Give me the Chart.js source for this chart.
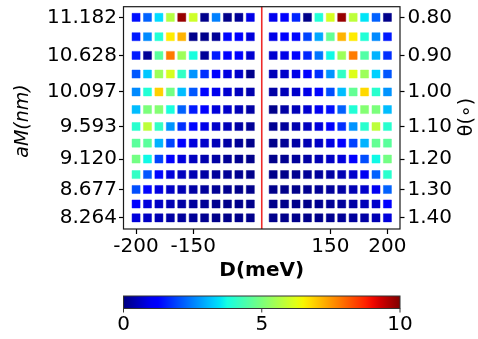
<!DOCTYPE html>
<html>
<head>
<meta charset="utf-8">
<script src="https://cdn.jsdelivr.net/npm/chart.js@4.4.0/dist/chart.umd.min.js"></script>
<style>
  html, body { margin: 0; padding: 0; background: #fff; }
  #wrap { width: 478px; height: 339px; }
</style>
</head>
<body>
<div id="wrap"><canvas id="heat"></canvas></div>
<script>
// --- data ---
const thetaLabels = ['0.80', '0.90', '1.00', '1.10', '1.20', '1.30', '1.40'];
const aMTicks = [11.182, 10.628, 10.097, 9.593, 9.120, 8.677, 8.264];
// one row per twist angle 0.80 .. 1.40 step 0.05 (moire period in nm)
const rowAM = [11.182, 10.900, 10.628, 10.357, 10.097, 9.840, 9.593, 9.352, 9.120, 8.894, 8.677, 8.466, 8.264];
const dLeft = [-200, -190, -180, -170, -160, -150, -140, -130, -120, -110, -100];
const dRight = [100, 110, 120, 130, 140, 150, 160, 170, 180, 190, 200];
const xTickLabels = [-200, -150, 150, 200];
const cbarTicks = [0, 5, 10];

const leftVals = [
    [1.4, 2.2, 3.4, 5.7, 9.8, 6.0, 0.1, 2.5, 0.1, 0.2, 0.9],
    [1.5, 2.6, 3.9, 6.6, 7.2, 0.1, 0.1, 0.2, 1.3, 1.2, 0.8],
    [1.5, 0.2, 4.6, 7.8, 5.4, 3.8, 0.2, 1.5, 1.2, 1.1, 0.7],
    [2.1, 3.2, 5.4, 6.1, 4.1, 2.7, 1.7, 1.2, 0.85, 0.65, 0.1],
    [2.6, 3.9, 6.9, 4.9, 3.1, 2.1, 1.3, 0.95, 0.7, 0.55, 0.4],
    [3.1, 5.0, 5.1, 3.8, 2.2, 1.5, 1.2, 0.8, 0.65, 0.5, 0.32],
    [4.0, 5.8, 4.1, 2.7, 1.7, 1.3, 0.9, 0.65, 0.5, 0.32, 0.2],
    [4.6, 4.6, 3.0, 1.9, 1.2, 0.8, 0.65, 0.5, 0.32, 0.2, 0.1],
    [4.9, 3.7, 1.9, 1.2, 0.8, 0.55, 0.4, 0.32, 0.2, 0.15, 0.1],
    [4.1, 2.1, 1.3, 0.8, 0.55, 0.45, 0.32, 0.25, 0.2, 0.15, 0.1],
    [2.0, 1.3, 0.85, 0.6, 0.45, 0.32, 0.25, 0.2, 0.15, 0.1, 0.1],
    [1.2, 0.8, 0.6, 0.45, 0.32, 0.25, 0.2, 0.15, 0.1, 0.1, 0.1],
    [0.8, 0.6, 0.45, 0.32, 0.25, 0.2, 0.15, 0.1, 0.1, 0.1, 0.1]
];
const rightVals = [
    [0.95, 1.2, 1.6, 0.1, 3.9, 6.1, 9.8, 5.8, 3.5, 2.2, 0.1],
    [0.9, 1.2, 1.3, 1.9, 2.9, 4.7, 7.2, 6.6, 3.9, 2.6, 1.5],
    [0.7, 0.9, 1.2, 1.6, 2.4, 3.7, 5.4, 7.8, 4.5, 3.0, 1.7],
    [0.5, 0.65, 0.9, 1.2, 1.7, 2.7, 4.1, 6.2, 5.4, 3.3, 2.1],
    [0.32, 0.5, 0.65, 0.9, 1.3, 2.0, 3.1, 4.7, 6.8, 4.0, 2.7],
    [0.1, 0.32, 0.5, 0.7, 1.0, 1.4, 2.2, 3.9, 5.1, 5.0, 3.1],
    [0.15, 0.25, 0.4, 0.55, 0.8, 1.2, 1.7, 2.7, 4.0, 5.8, 4.0],
    [0.1, 0.2, 0.32, 0.45, 0.6, 0.85, 1.2, 1.9, 3.0, 4.7, 4.6],
    [0.1, 0.15, 0.25, 0.32, 0.45, 0.6, 0.8, 1.2, 2.0, 3.7, 4.9],
    [0.1, 0.1, 0.15, 0.2, 0.25, 0.32, 0.45, 0.65, 1.0, 2.2, 4.0],
    [0.1, 0.1, 0.1, 0.15, 0.2, 0.25, 0.32, 0.45, 0.65, 1.0, 2.2],
    [0.1, 0.1, 0.1, 0.1, 0.15, 0.2, 0.25, 0.32, 0.5, 0.65, 1.2],
    [0.1, 0.1, 0.1, 0.1, 0.1, 0.15, 0.2, 0.25, 0.32, 0.45, 0.8]
];

const vMin = 0, vMax = 10;
const gap = 90; // the axis is broken between -90 and 90 meV

// D -> position on the (broken) x axis
function shiftD(d) { return d < 0 ? d + gap : d - gap; }
function unshiftD(x) { return x < 0 ? x - gap : x + gap; }

// matplotlib 'jet'
function jet(v) {
    const t = Math.min(1, Math.max(0, (v - vMin) / (vMax - vMin)));
    const seg = (pts) => {
        for (let i = 1; i < pts.length; i++) {
            if (t <= pts[i][0]) {
                const [x0, y0] = pts[i - 1], [x1, y1] = pts[i];
                return y0 + (y1 - y0) * (t - x0) / (x1 - x0);
            }
        }
        return pts[pts.length - 1][1];
    };
    const r = seg([[0, 0], [0.35, 0], [0.66, 1], [0.89, 1], [1, 0.5]]);
    const g = seg([[0, 0], [0.125, 0], [0.375, 1], [0.64, 1], [0.91, 0], [1, 0]]);
    const b = seg([[0, 0.5], [0.11, 1], [0.34, 1], [0.65, 0], [1, 0]]);
    return [Math.round(r * 255), Math.round(g * 255), Math.round(b * 255)];
}

function buildPoints(ds, vals) {
    const pts = [];
    vals.forEach((row, i) => {
        row.forEach((v, j) => {
            pts.push({ x: shiftD(ds[j]), y: rowAM[i], v: v });
        });
    });
    return pts;
}

const points = buildPoints(dLeft, leftVals).concat(buildPoints(dRight, rightVals));
const fills = points.map(p => 'rgb(' + jet(p.v).join(',') + ')');
const edges = points.map(p => 'rgba(' + jet(p.v).join(',') + ',0.45)');

const FONT = "'DejaVu Sans', sans-serif";

// keep tick labels from pushing the plot area around
function noPad(s) {
    s.paddingTop = 0; s.paddingBottom = 0; s.paddingLeft = 0; s.paddingRight = 0;
}

// tick marks only, no grid lines inside the plot
function tickGrid(len) {
    return { display: true, drawOnChartArea: false, drawTicks: true, tickLength: len, tickColor: '#000', tickWidth: 1.2 };
}

const decorPlugin = {
    id: 'decor',
    afterDatasetsDraw(chart) {
        const { ctx, chartArea: ca } = chart;
        const xs = chart.scales.x;
        ctx.save();
        // red divider
        const xr = xs.getPixelForValue(0);
        ctx.strokeStyle = '#ee2a2a';
        ctx.lineWidth = 1.6;
        ctx.beginPath();
        ctx.moveTo(xr, ca.top);
        ctx.lineTo(xr, ca.bottom);
        ctx.stroke();
        // frame
        ctx.strokeStyle = '#1a1a1a';
        ctx.lineWidth = 1.2;
        ctx.strokeRect(ca.left, ca.top, ca.right - ca.left, ca.bottom - ca.top);

        // y titles
        ctx.fillStyle = '#000';
        ctx.textAlign = 'center';
        ctx.textBaseline = 'middle';
        ctx.font = 'italic 19px ' + FONT;
        ctx.translate(23, 121);
        ctx.rotate(-Math.PI / 2);
        ctx.fillText('aM(nm)', 0, 0);
        ctx.setTransform(1, 0, 0, 1, 0, 0);
        ctx.font = '19px ' + FONT;
        ctx.translate(467, 117);
        ctx.rotate(-Math.PI / 2);
        ctx.fillText('\u03b8(\u2218)', 0, 0);
        ctx.setTransform(1, 0, 0, 1, 0, 0);

        // colorbar
        const top = 296, h = 12.5;
        const grad = ctx.createLinearGradient(ca.left, 0, ca.right, 0);
        for (let k = 0; k <= 40; k++) {
            const c = jet(vMin + (vMax - vMin) * k / 40);
            grad.addColorStop(k / 40, 'rgb(' + c.join(',') + ')');
        }
        ctx.fillStyle = grad;
        ctx.fillRect(ca.left, top, ca.right - ca.left, h);
        ctx.strokeStyle = '#333';
        ctx.lineWidth = 1;
        ctx.strokeRect(ca.left, top, ca.right - ca.left, h);
        ctx.fillStyle = '#000';
        ctx.font = '20px ' + FONT;
        ctx.textBaseline = 'middle';
        cbarTicks.forEach(t => {
            const px = ca.left + (ca.right - ca.left) * (t - vMin) / (vMax - vMin);
            ctx.beginPath();
            ctx.moveTo(px, top + h);
            ctx.lineTo(px, top + h + 4);
            ctx.stroke();
            ctx.fillText(String(t), px, 325);
        });
        ctx.restore();
    }
};

new Chart(document.getElementById('heat'), {
    type: 'scatter',
    data: {
        datasets: [{
            data: points,
            pointStyle: 'rect',
            pointRadius: 5.7,
            pointHoverRadius: 5.7,
            backgroundColor: fills,
            borderColor: edges,
            borderWidth: 1
        }]
    },
    options: {
        responsive: true,
        maintainAspectRatio: false,
        animation: false,
        events: [],
        layout: { padding: { top: 5, bottom: 56, left: 0, right: 0 } },
        plugins: { legend: { display: false }, tooltip: { enabled: false } },
        scales: {
            x: {
                type: 'linear',
                min: -121,
                max: 121,
                afterBuildTicks: (s) => { s.ticks = xTickLabels.map(d => ({ value: shiftD(d) })); },
                afterFit: (s) => { s.height = 54; noPad(s); },
                grid: tickGrid(5),
                border: { display: false },
                ticks: {
                    color: '#000',
                    font: { family: FONT, size: 20 },
                    padding: 1,
                    maxRotation: 0,
                    callback: (v) => String(unshiftD(v))
                },
                title: {
                    display: true,
                    text: 'D(meV)',
                    color: '#000',
                    font: { family: FONT, size: 20, weight: 'bold' },
                    padding: { top: 0, bottom: 0 }
                }
            },
            y: {
                type: 'linear',
                position: 'left',
                min: 8.102,
                max: 11.337,
                afterBuildTicks: (s) => { s.ticks = aMTicks.map(v => ({ value: v })); },
                afterFit: (s) => { s.width = 123.5; noPad(s); },
                grid: tickGrid(4.5),
                border: { display: false },
                ticks: {
                    color: '#000',
                    font: { family: FONT, size: 20 },
                    padding: 2,
                    callback: (v) => v.toFixed(3)
                }
            },
            y2: {
                type: 'linear',
                position: 'right',
                min: 8.102,
                max: 11.337,
                afterBuildTicks: (s) => { s.ticks = aMTicks.map(v => ({ value: v })); },
                afterFit: (s) => { s.width = 78; noPad(s); },
                grid: tickGrid(4.5),
                border: { display: false },
                ticks: {
                    color: '#000',
                    font: { family: FONT, size: 20 },
                    padding: 3,
                    callback: (v) => thetaLabels[aMTicks.indexOf(v)]
                }
            }
        }
    },
    plugins: [decorPlugin]
});
</script>
</body>
</html>
